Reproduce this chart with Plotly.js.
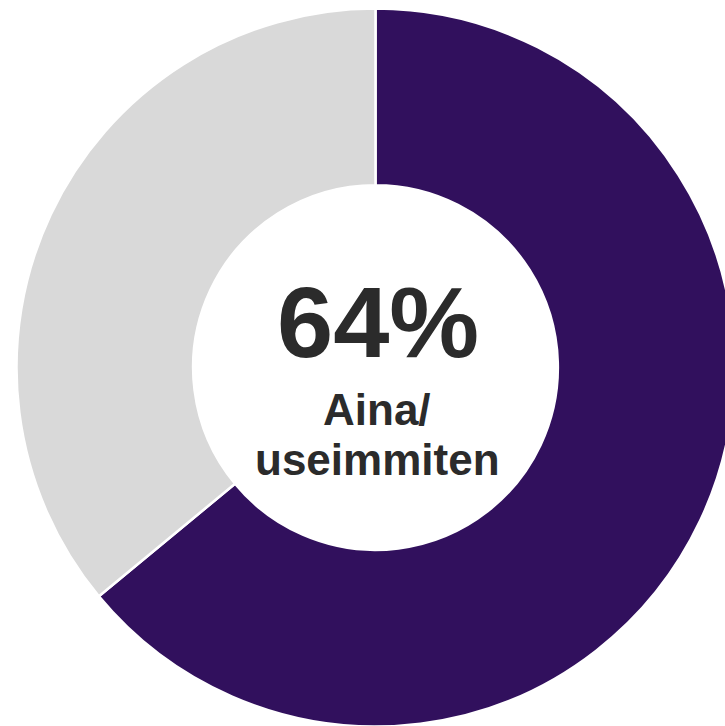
<!DOCTYPE html>
<html>
<head>
<meta charset="utf-8">
<script src="https://cdn.plot.ly/plotly-3.0.1.min.js"></script>
<style>
html, body { margin: 0; padding: 0; background: #ffffff; overflow: hidden; width: 725px; height: 726px; }
#chart { width: 800px; height: 800px; }
</style>
</head>
<body>
<div id="chart"></div>
<script>
const categories = ["Aina/useimmiten", "Muut"];
const values = [64, 36];
const colors = ["#31105d", "#d9d9d9"];
const centerValue = "64%";
const centerLabel1 = "Aina/";
const centerLabel2 = "useimmiten";

const W = 800, H = 800;
const cx = 375.5, cy = 367.5, R = 359;

const trace = {
  type: "pie",
  labels: categories,
  values: values,
  hole: 0.508,
  sort: false,
  direction: "clockwise",
  rotation: 0,
  textinfo: "none",
  hoverinfo: "label+percent",
  marker: { colors: colors, line: { color: "#ffffff", width: 2.5 } },
  domain: { x: [(cx - R) / W, (cx + R) / W], y: [1 - (cy + R) / H, 1 - (cy - R) / H] },
  showlegend: false
};

const font = "'Liberation Sans', Arial, sans-serif";
const layout = {
  width: W, height: H,
  margin: { l: 0, r: 0, t: 0, b: 0 },
  paper_bgcolor: "#ffffff",
  showlegend: false,
  annotations: [
    { text: "<b>" + centerValue + "</b>", x: (cx + 2) / W, y: 1 - 321.5 / H, xref: "paper", yref: "paper",
      xanchor: "center", yanchor: "middle", showarrow: false, font: { family: font, size: 101, color: "#2b2b2b" } },
    { text: "<b>" + centerLabel1 + "</b>", x: (cx + 1) / W, y: 1 - 410 / H, xref: "paper", yref: "paper",
      xanchor: "center", yanchor: "middle", showarrow: false, font: { family: font, size: 44, color: "#2b2b2b" } },
    { text: "<b>" + centerLabel2 + "</b>", x: (cx + 2) / W, y: 1 - 460 / H, xref: "paper", yref: "paper",
      xanchor: "center", yanchor: "middle", showarrow: false, font: { family: font, size: 44, color: "#2b2b2b" } }
  ]
};

Plotly.newPlot("chart", [trace], layout, { displayModeBar: false, staticPlot: true });
</script>
</body>
</html>
